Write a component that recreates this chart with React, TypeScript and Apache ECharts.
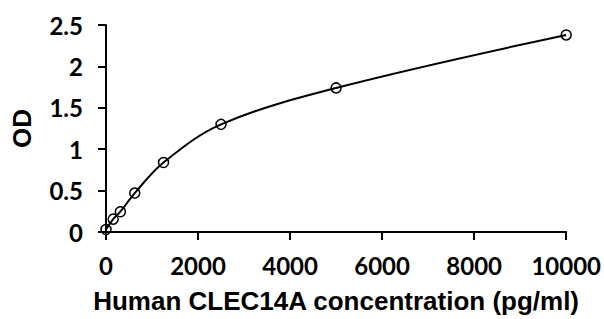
import React, { useEffect, useRef } from "react";
import * as echarts from "echarts";

const concentrations = [0, 156, 312, 625, 1250, 2500, 5000, 10000];
const odValues = [0.03, 0.155, 0.245, 0.47, 0.84, 1.3, 1.74, 2.38];

const xTitle = "Human CLEC14A concentration (pg/ml)";
const yTitle = "OD";

export default function App() {
  const ref = useRef<HTMLDivElement>(null);
  useEffect(() => {
    const chart = echarts.init(ref.current!, null, { renderer: "svg" });
    const tickFont = { fontFamily: "Lato", fontWeight: "bold" as const, fontSize: 24, color: "#000" };
    const nameFont = { fontFamily: "Liberation Sans", fontWeight: "bold" as const, fontSize: 26, color: "#000" };
    chart.setOption({
      animation: false,
      backgroundColor: "#fff",
      grid: { left: 106, right: 36, top: 25, bottom: 86, containLabel: false },
      xAxis: {
        type: "value",
        min: 0,
        max: 10000,
        interval: 2000,
        name: xTitle,
        nameLocation: "middle",
        nameGap: 56,
        nameTextStyle: nameFont,
        axisLine: { lineStyle: { color: "#000", width: 2 } },
        axisTick: { show: true, length: 8, lineStyle: { color: "#000", width: 2 } },
        axisLabel: { ...tickFont, margin: 21, formatter: (v: number) => String(v) },
        splitLine: { show: false },
      },
      yAxis: {
        type: "value",
        min: 0,
        max: 2.5,
        interval: 0.5,
        name: yTitle,
        nameLocation: "middle",
        nameGap: 71,
        nameTextStyle: nameFont,
        axisLine: { show: true, lineStyle: { color: "#000", width: 2 } },
        axisTick: { show: true, length: 8, lineStyle: { color: "#000", width: 2 } },
        axisLabel: { ...tickFont, margin: 23, formatter: (v: number) => String(v) },
        splitLine: { show: false },
      },
      series: [
        {
          type: "line",
          data: concentrations.map((c, i) => [c, odValues[i]]),
          smooth: 0.35,
          symbol: "circle",
          symbolSize: 10,
          itemStyle: { color: "transparent", borderColor: "#000", borderWidth: 1.5 },
          lineStyle: { color: "#000", width: 2 },
          clip: false,
        },
      ],
    });
    return () => chart.dispose();
  }, []);
  return <div ref={ref} style={{ width: 604, height: 319, position: "absolute", left: 0, top: 0 }} />;
}
